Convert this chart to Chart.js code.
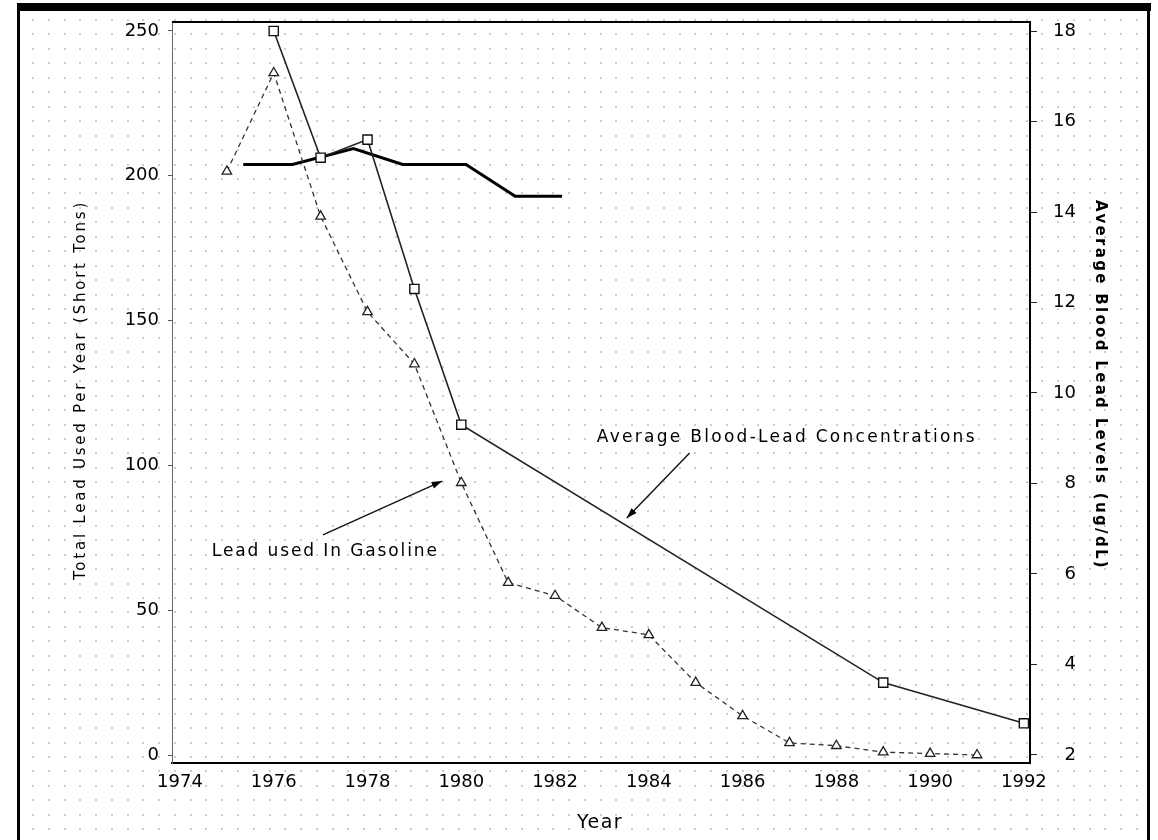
<!DOCTYPE html>
<html>
<head>
<meta charset="utf-8">
<title>Lead used in gasoline vs blood lead</title>
<script src="https://cdn.jsdelivr.net/npm/chart.js@4.4.1/dist/chart.umd.min.js"></script>
<style>
  html, body { margin: 0; padding: 0; background: #fff; }
  #wrap { width: 1158px; height: 840px; }
</style>
</head>
<body>
<div id="wrap"><canvas id="leadChart" width="1158" height="840"></canvas></div>
<script>
/*-- data --*/
const gasYears = [1975, 1976, 1977, 1978, 1979, 1980, 1981, 1982, 1983, 1984, 1985, 1986, 1987, 1988, 1989, 1990, 1991];
const gasLead = [201.5, 235.5, 186, 153, 135, 94, 59.5, 55, 44, 41.5, 25, 13.5, 4.2, 3.2, 1, 0.5, 0];

const bloodYears = [1976, 1977, 1978, 1979, 1980, 1989, 1992];
const bloodLead = [18.0, 15.2, 15.6, 12.3, 9.3, 3.6, 2.7];

// the heavy flat line in the upper left
const flatYears = [1975.35, 1976.4, 1977.7, 1978.75, 1980.1, 1981.15, 1982.15];
const flatLevels = [15.05, 15.05, 15.4, 15.05, 15.05, 14.35, 14.35];

const yearTicks = [1974, 1976, 1978, 1980, 1982, 1984, 1986, 1988, 1990, 1992];
const tonTicks = [0, 50, 100, 150, 200, 250];
const levelTicks = [2, 4, 6, 8, 10, 12, 14, 16, 18];

const leftTitle = "Total Lead Used Per Year (Short Tons)";
const rightTitle = "Average Blood Lead Levels (ug/dL)";
const bottomTitle = "Year";
const gasLabel = "Lead used In Gasoline";
const bloodLabel = "Average Blood-Lead Concentrations";

const FONT = "'DejaVu Sans', sans-serif";

function pts(xs, ys) {
  return xs.map(function (x, i) { return { x: x, y: ys[i] }; });
}

// draw text squeezed/stretched to a given width with letter spacing
function spacedText(ctx, text, x, y, w) {
  ctx.letterSpacing = "0px";
  let m = ctx.measureText(text).width;
  let sp = (w - m) / text.length;
  ctx.letterSpacing = sp + "px";
  ctx.fillText(text, x, y);
  ctx.letterSpacing = "0px";
}

function arrow(ctx, x1, y1, x2, y2) {
  ctx.beginPath();
  ctx.moveTo(x1, y1);
  ctx.lineTo(x2, y2);
  ctx.stroke();
  let a = Math.atan2(y2 - y1, x2 - x1);
  let len = 11, half = 0.33;
  ctx.beginPath();
  ctx.moveTo(x2, y2);
  ctx.lineTo(x2 - len * Math.cos(a - half), y2 - len * Math.sin(a - half));
  ctx.lineTo(x2 - len * Math.cos(a + half), y2 - len * Math.sin(a + half));
  ctx.closePath();
  ctx.fill();
}

// fixed scale sizes so the plot box lands where it is in the picture
function fixVertical(w) {
  return function (s) { s.width = w; s.paddingTop = 0; s.paddingBottom = 0; };
}

/*-- dotted paper, frame, titles and the two notes --*/
const decor = {
  id: "decor",
  beforeDraw(chart) {
    const ctx = chart.ctx;
    ctx.save();
    ctx.fillStyle = "#fff";
    ctx.fillRect(0, 0, chart.width, chart.height);
    ctx.fillStyle = "#cdcdcd";
    for (let y = 20; y < chart.height; y += 14.45) {
      for (let x = 33; x < 1146; x += 15.77) {
        ctx.fillRect(Math.round(x) - 1, Math.round(y) - 1, 2, 2);
      }
    }
    // outer frame
    ctx.fillStyle = "#000";
    ctx.fillRect(17, 3, 1134, 8);
    ctx.fillRect(17, 3, 3, chart.height);
    ctx.fillRect(1147, 3, 3, chart.height);
    ctx.restore();
  },
  afterDraw(chart) {
    const ctx = chart.ctx;
    const a = chart.chartArea;
    const xs = chart.scales.x, ys = chart.scales.y;
    ctx.save();
    // top edge of the plot box
    ctx.strokeStyle = "#000";
    ctx.lineWidth = 2;
    ctx.beginPath();
    ctx.moveTo(a.left, a.top);
    ctx.lineTo(a.right, a.top);
    ctx.stroke();

    ctx.fillStyle = "#000";
    ctx.textBaseline = "middle";

    // axis titles
    ctx.font = "15px " + FONT;
    ctx.save();
    ctx.translate(81, 390);
    ctx.rotate(-Math.PI / 2);
    ctx.textAlign = "left";
    spacedText(ctx, leftTitle, -190, 0, 380);
    ctx.restore();

    ctx.font = "bold 15px " + FONT;
    ctx.save();
    ctx.translate(1100, 385);
    ctx.rotate(Math.PI / 2);
    ctx.textAlign = "left";
    spacedText(ctx, rightTitle, -185, 0, 370);
    ctx.restore();

    ctx.font = "19px " + FONT;
    ctx.textAlign = "left";
    spacedText(ctx, bottomTitle, 577, 823, 46);

    // notes with arrows
    ctx.font = "17px " + FONT;
    spacedText(ctx, gasLabel, xs.getPixelForValue(1974.68), ys.getPixelForValue(70.4), 227);
    spacedText(ctx, bloodLabel, xs.getPixelForValue(1982.89), ys.getPixelForValue(109.5), 380);

    ctx.strokeStyle = "#111";
    ctx.lineWidth = 1.4;
    arrow(ctx, xs.getPixelForValue(1977.05), ys.getPixelForValue(76),
      xs.getPixelForValue(1979.59), ys.getPixelForValue(94.6));
    arrow(ctx, xs.getPixelForValue(1984.87), ys.getPixelForValue(104.3),
      xs.getPixelForValue(1983.53), ys.getPixelForValue(81.8));
    ctx.restore();
  }
};

var chartCtx = document.getElementById("leadChart").getContext("2d");
var leadChart = new Chart(chartCtx, {
  type: "line",
  data: {
    datasets: [{
      label: "Lead used in gasoline",
      data: pts(gasYears, gasLead),
      yAxisID: "y",
      borderColor: "#333",
      borderWidth: 1.3,
      borderDash: [5, 4],
      pointStyle: "triangle",
      pointRadius: 5.5,
      pointBorderWidth: 1.3,
      pointBorderColor: "#222",
      pointBackgroundColor: "#fff",
      tension: 0
    }, {
      label: "Average blood-lead concentrations",
      data: pts(bloodYears, bloodLead),
      yAxisID: "y2",
      borderColor: "#222",
      borderWidth: 1.6,
      pointStyle: "rect",
      pointRadius: 6.5,
      pointBorderWidth: 1.4,
      pointBorderColor: "#111",
      pointBackgroundColor: "#fff",
      tension: 0
    }, {
      label: "flat",
      data: pts(flatYears, flatLevels),
      yAxisID: "y2",
      borderColor: "#000",
      borderWidth: 3,
      pointRadius: 0,
      tension: 0
    }]
  },
  options: {
    responsive: false,
    animation: false,
    devicePixelRatio: 1,
    layout: { padding: { top: 22, left: 0, right: 0, bottom: 0 } },
    plugins: {
      legend: { display: false },
      tooltip: { enabled: false }
    },
    scales: {
      x: {
        type: "linear",
        min: 1973.83,
        max: 1992.13,
        afterBuildTicks: function (s) { s.ticks = yearTicks.map(function (v) { return { value: v }; }); },
        afterFit: function (s) { s.height = 77; s.paddingLeft = 0; s.paddingRight = 0; },
        grid: { display: false, drawTicks: false },
        border: { display: true, color: "#000", width: 2 },
        ticks: {
          color: "#000",
          font: { family: FONT, size: 18 },
          padding: 9,
          maxRotation: 0,
          autoSkip: false,
          callback: function (v) { return String(v); }
        }
      },
      y: {
        position: "left",
        min: -2.76,
        max: 253.1,
        afterBuildTicks: function (s) { s.ticks = tonTicks.map(function (v) { return { value: v }; }); },
        afterFit: fixVertical(172),
        grid: { display: true, drawOnChartArea: false, tickLength: 4, tickColor: "#555" },
        border: { display: true, color: "#666", width: 1 },
        ticks: {
          color: "#000",
          font: { family: FONT, size: 18 },
          padding: 9,
          autoSkip: false
        }
      },
      y2: {
        position: "right",
        min: 1.823,
        max: 18.199,
        afterBuildTicks: function (s) { s.ticks = levelTicks.map(function (v) { return { value: v }; }); },
        afterFit: fixVertical(128),
        grid: { display: true, drawOnChartArea: false, tickLength: 7, tickColor: "#222" },
        border: { display: true, color: "#000", width: 2 },
        ticks: {
          color: "#000",
          font: { family: FONT, size: 18 },
          padding: 16,
          crossAlign: "near",
          autoSkip: false,
          // figure space keeps single digits lined up on the right
          callback: function (v) { return v < 10 ? "\u2007" + v : String(v); }
        }
      }
    }
  },
  plugins: [decor]
});
</script>
</body>
</html>
